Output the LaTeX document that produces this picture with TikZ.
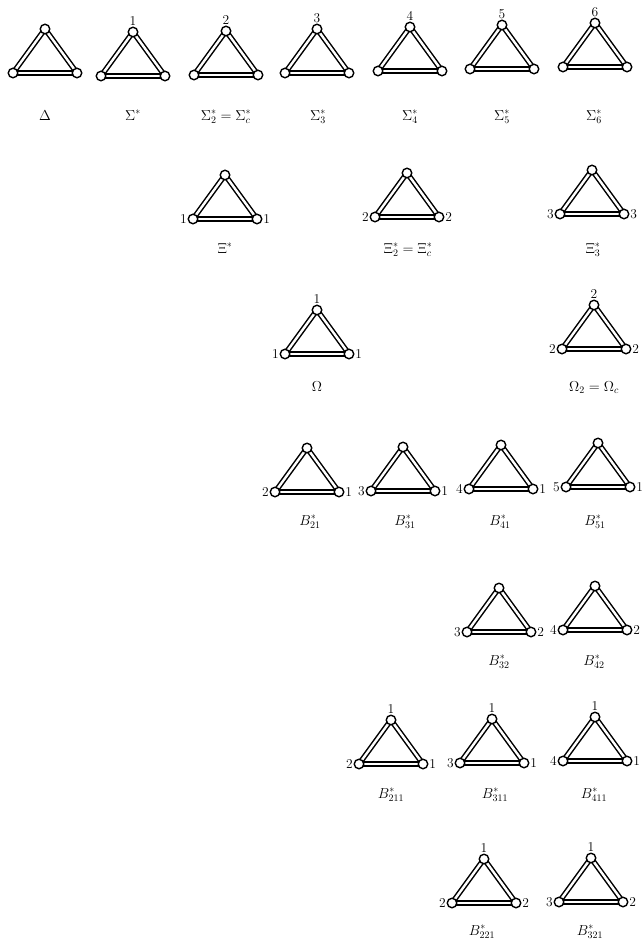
\documentclass[tikz,border=0pt]{standalone}
\pgfdeclarelayer{bg}
\pgfsetlayers{bg,main}
\tikzset{
  vtx/.style={circle, draw, fill=white, line width=1.4pt, minimum size=9.5pt, inner sep=0pt},
  dbl/.style={line width=1.5pt, double=white, double distance=2.4pt},
  vnum/.style={font=\fontsize{13.5}{14}\selectfont, inner sep=0.6pt},
  ttl/.style={font=\fontsize{14.5}{16}\selectfont, anchor=base, inner sep=0pt},
}
% #1 name, #2 x, #3 apex y, #4 top, #5 left, #6 right
\newcommand\tri[6]{%
  \node[vtx, label={[vnum, label distance=0pt]90:#4}] (#1t) at (#2,#3) {};
  \node[vtx, label={[vnum, label distance=0pt]180:#5}] (#1l) at (#2-32,#3+44) {};
  \node[vtx, label={[vnum, label distance=0pt]0:#6}] (#1r) at (#2+32,#3+44) {};
  \begin{pgfonlayer}{bg}
    \draw[dbl] (#1t.center) -- (#1l.center);
    \draw[dbl] (#1l.center) -- (#1r.center);
    \draw[dbl] (#1r.center) -- (#1t.center);
  \end{pgfonlayer}
}
\begin{document}
\begin{tikzpicture}[x=1pt, y=-1pt]
\useasboundingbox (0,0) rectangle (642,951);
% Row 1
\tri{D}{45}{29}{}{}{}
\tri{Sa}{133}{32}{1}{}{}
\tri{Sb}{226}{31}{2}{}{}
\tri{Sc}{317}{29}{3}{}{}
\tri{Sd}{410}{27}{4}{}{}
\tri{Se}{502}{25}{5}{}{}
\tri{Sf}{595}{23}{6}{}{}
\node[ttl] (tD) at (45,120) {$\Delta$};
\node[ttl] (tSa) at (133,120) {$\Sigma^*$};
\node[ttl] (tSb) at (226,120) {$\Sigma_2^*=\Sigma_c^*$};
\node[ttl] (tSc) at (318,120) {$\Sigma_3^*$};
\node[ttl] (tSd) at (410,120) {$\Sigma_4^*$};
\node[ttl] (tSe) at (502,120) {$\Sigma_5^*$};
\node[ttl] (tSf) at (594,120) {$\Sigma_6^*$};
% Row 2
\tri{Xa}{225}{175}{}{1}{1}
\tri{Xb}{407}{173}{}{2}{2}
\tri{Xc}{592}{170}{}{3}{3}
\node[ttl] (tXa) at (225,253) {$\Xi^*$};
\node[ttl] (tXb) at (408,253) {$\Xi_2^*=\Xi_c^*$};
\node[ttl] (tXc) at (593,253) {$\Xi_3^*$};
% Row 3
\tri{Oa}{317}{310}{1}{1}{1}
\tri{Ob}{594}{305}{2}{2}{2}
\node[ttl] (tOa) at (317,391) {$\Omega$};
\node[ttl] (tOb) at (594,391) {$\Omega_2=\Omega_c$};
% Row 4
\tri{Ba}{307}{448}{}{2}{1}
\tri{Bb}{403}{447}{}{3}{1}
\tri{Bc}{501}{445}{}{4}{1}
\tri{Bd}{598}{443}{}{5}{1}
\node[ttl] (tBa) at (310,525) {$B_{21}^*$};
\node[ttl] (tBb) at (405,525) {$B_{31}^*$};
\node[ttl] (tBc) at (500,525) {$B_{41}^*$};
\node[ttl] (tBd) at (595,525) {$B_{51}^*$};
% Row 5
\tri{Be}{499}{588}{}{3}{2}
\tri{Bf}{595}{586}{}{4}{2}
\node[ttl] (tBe) at (499,665) {$B_{32}^*$};
\node[ttl] (tBf) at (594,665) {$B_{42}^*$};
% Row 6
\tri{Bg}{391}{720}{1}{2}{1}
\tri{Bh}{492}{719}{1}{3}{1}
\tri{Bi}{595}{717}{1}{4}{1}
\node[ttl] (tBg) at (391,798) {$B_{211}^*$};
\node[ttl] (tBh) at (495,798) {$B_{311}^*$};
\node[ttl] (tBi) at (594,798) {$B_{411}^*$};
% Row 7
\tri{Bj}{484}{859}{1}{2}{2}
\tri{Bk}{591}{858}{1}{3}{2}
\node[ttl] (tBj) at (482,935) {$B_{221}^*$};
\node[ttl] (tBk) at (590,935) {$B_{321}^*$};
\end{tikzpicture}
\end{document}
